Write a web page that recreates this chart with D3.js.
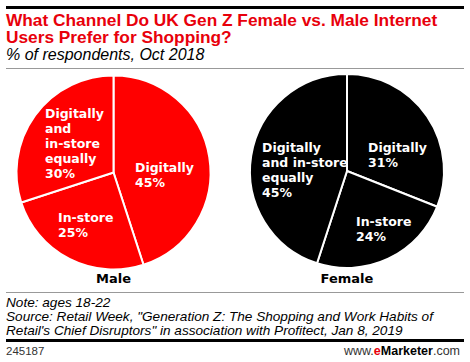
<!DOCTYPE html>
<html>
<head>
<meta charset="utf-8">
<script src="https://cdn.jsdelivr.net/npm/d3@7"></script>
<style>
  body { margin: 0; background: #fff; }
  svg { display: block; }
</style>
</head>
<body>
<div id="chart"></div>
<script>
// data
const channels = ["Digitally", "In-store", "Digitally and in-store equally"];
const maleValues = [45, 25, 30];
const femaleValues = [31, 24, 45];
const groups = ["Male", "Female"];

// label line breaks per pie (same order as channels)
const maleLabelLines = [["Digitally"], ["In-store"], ["Digitally", "and", "in-store", "equally"]];
const femaleLabelLines = [["Digitally"], ["In-store"], ["Digitally", "and in-store", "equally"]];

const W = 470, H = 362;
const svg = d3.select("#chart").append("svg")
  .attr("width", W)
  .attr("height", H);

// header
svg.append("rect").attr("x", 6).attr("y", 6).attr("width", 458).attr("height", 3).attr("fill", "#000");
const title = svg.append("text")
  .attr("font-family", "'Liberation Sans', Arial, sans-serif")
  .attr("font-weight", "bold")
  .attr("font-size", 17.3)
  .attr("fill", "#e8000b");
title.append("tspan").attr("x", 6).attr("y", 26).text("What Channel Do UK Gen Z Female vs. Male Internet");
title.append("tspan").attr("x", 6).attr("y", 43).text("Users Prefer for Shopping?");
svg.append("text")
  .attr("x", 6).attr("y", 60)
  .attr("font-family", "'Liberation Sans', Arial, sans-serif")
  .attr("font-style", "italic")
  .attr("font-size", 16)
  .attr("fill", "#000")
  .text("% of respondents, Oct 2018");
svg.append("rect").attr("x", 6).attr("y", 68).attr("width", 458).attr("height", 1).attr("fill", "#999");

const pie = d3.pie().sort(null).value(d => d);
const r = 97;
const arc = d3.arc().innerRadius(0).outerRadius(r);

function drawPie (cx, cy, values, color, name, labelLines, labelPos) {
  const g = svg.append("g").attr("transform", "translate(" + cx + "," + cy + ")");
  const arcs = pie(values);
  g.selectAll("path")
    .data(arcs)
    .enter().append("path")
    .attr("d", arc)
    .attr("fill", color)
    .attr("stroke", "#fff")
    .attr("stroke-width", 2)
    .attr("stroke-linejoin", "round");

  arcs.forEach((a, i) => {
    const lines = labelLines[i].concat([values[i] + "%"]);
    const t = g.append("text")
      .attr("font-family", "'DejaVu Sans', Verdana, sans-serif")
      .attr("font-weight", "bold")
      .attr("font-size", 12.5)
      .attr("fill", "#fff");
    lines.forEach((ln, j) => {
      t.append("tspan")
        .attr("x", labelPos[i][0])
        .attr("y", labelPos[i][1] + j * 15)
        .text(ln);
    });
  });

  svg.append("text")
    .attr("x", cx).attr("y", 283)
    .attr("text-anchor", "middle")
    .attr("font-family", "'DejaVu Sans', Verdana, sans-serif")
    .attr("font-weight", "bold")
    .attr("font-size", 13)
    .attr("fill", "#000")
    .text(name);
}

// label anchors relative to each pie centre
drawPie(113.5, 172.5, maleValues, "#ff0000", groups[0], maleLabelLines,
  [[21.5, -0.5], [-55.5, 49.5], [-68.5, -54.5]]);
drawPie(347, 171, femaleValues, "#000000", groups[1], femaleLabelLines,
  [[21, -19], [9, 55], [-85, -19]]);

// footer
svg.append("rect").attr("x", 6).attr("y", 292).attr("width", 458).attr("height", 1).attr("fill", "#999");
const foot = svg.append("text")
  .attr("font-family", "'Liberation Sans', Arial, sans-serif")
  .attr("font-style", "italic")
  .attr("font-size", 13.6)
  .attr("fill", "#000");
foot.append("tspan").attr("x", 6).attr("y", 307).text("Note: ages 18-22");
foot.append("tspan").attr("x", 6).attr("y", 321).text("Source: Retail Week, \"Generation Z: The Shopping and Work Habits of");
foot.append("tspan").attr("x", 6).attr("y", 335).text("Retail's Chief Disruptors\" in association with Profitect, Jan 8, 2019");
svg.append("rect").attr("x", 6).attr("y", 339).attr("width", 458).attr("height", 3).attr("fill", "#000");
svg.append("text")
  .attr("x", 6).attr("y", 355)
  .attr("font-family", "'Liberation Sans', Arial, sans-serif")
  .attr("font-size", 11.5)
  .attr("fill", "#333")
  .text("245187");
const brand = svg.append("text")
  .attr("x", 460).attr("y", 355)
  .attr("text-anchor", "end")
  .attr("font-family", "'Liberation Sans', Arial, sans-serif")
  .attr("font-size", 12.5)
  .attr("fill", "#333");
brand.append("tspan").text("www.");
brand.append("tspan").attr("font-weight", "bold").attr("fill", "#e8000b").text("e");
brand.append("tspan").attr("font-weight", "bold").attr("fill", "#000").text("Marketer");
brand.append("tspan").text(".com");
</script>
</body>
</html>
